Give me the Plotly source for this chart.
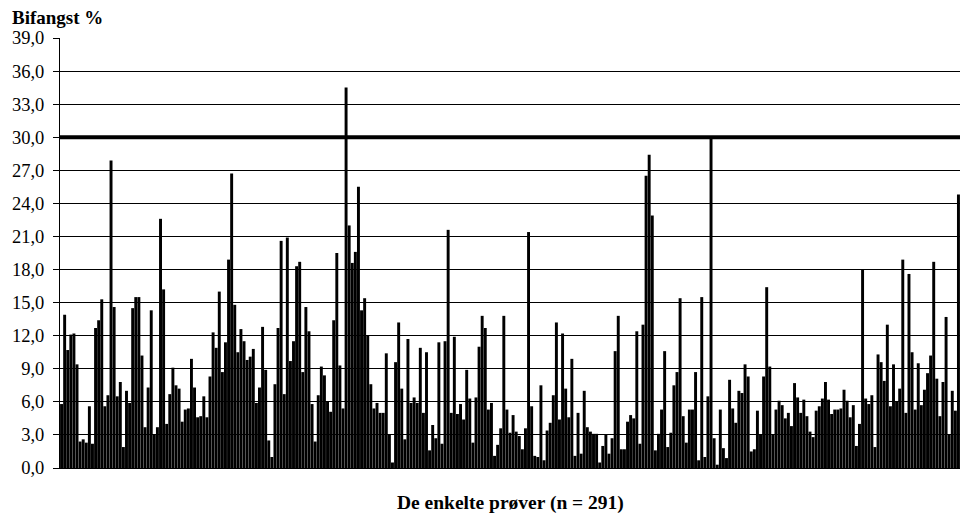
import plotly.graph_objects as go

# Bycatch percentage for each of the 291 samples
sample_no = list(range(1, 292))
bifangst = [
    5.8, 13.9, 10.7, 12.1, 12.2, 9.4, 2.4, 2.6, 2.3, 5.6,
    2.2, 12.7, 13.4, 15.3, 5.6, 6.6, 27.9, 14.6, 6.5, 7.8,
    1.9, 7.0, 5.9, 14.5, 15.5, 15.5, 10.2, 3.7, 7.3, 14.3,
    3.0, 3.7, 22.6, 16.2, 4.0, 6.7, 9.1, 7.5, 7.2, 4.2,
    5.3, 5.4, 9.9, 7.3, 4.6, 4.7, 6.5, 4.6, 8.3, 12.3,
    10.9, 16.0, 8.7, 11.4, 18.9, 26.7, 14.8, 10.5, 12.6, 11.5,
    9.8, 10.1, 10.8, 5.9, 7.3, 12.8, 8.9, 2.5, 1.0, 7.6,
    12.7, 20.6, 6.7, 20.9, 9.7, 11.5, 18.3, 18.7, 8.7, 14.6,
    12.4, 5.8, 2.4, 6.6, 9.2, 8.4, 6.0, 5.1, 13.4, 19.5,
    9.3, 5.4, 34.5, 22.0, 18.6, 19.6, 25.5, 14.3, 15.4, 12.0,
    7.6, 5.4, 5.9, 5.0, 5.0, 10.4, 3.0, 0.5, 9.6, 13.2,
    7.2, 2.6, 11.7, 5.9, 6.4, 5.9, 10.9, 5.0, 10.5, 1.6,
    3.9, 2.7, 11.4, 2.2, 11.5, 21.6, 5.0, 11.9, 4.9, 5.8,
    4.4, 8.9, 6.3, 2.3, 6.4, 11.0, 13.8, 12.7, 5.3, 5.9,
    1.1, 2.1, 3.6, 13.8, 5.3, 3.2, 4.8, 3.3, 2.9, 1.7,
    3.6, 21.4, 5.6, 1.1, 1.0, 7.5, 0.7, 3.4, 4.1, 6.6,
    13.2, 4.4, 12.2, 7.2, 4.6, 9.9, 1.1, 5.0, 1.3, 7.0,
    3.7, 3.3, 3.1, 3.1, 0.5, 2.0, 3.0, 1.3, 2.7, 10.6,
    13.8, 1.7, 1.7, 4.2, 4.8, 4.5, 12.4, 2.2, 13.0, 26.5,
    28.4, 22.9, 1.6, 3.1, 5.3, 10.6, 1.9, 3.2, 7.5, 8.7,
    15.4, 4.7, 2.3, 5.3, 5.3, 8.7, 0.7, 15.5, 1.0, 6.5,
    30.0, 2.7, 0.3, 5.3, 1.8, 0.9, 8.0, 5.4, 4.1, 7.0,
    6.8, 9.4, 8.3, 1.5, 1.7, 5.2, 3.0, 8.3, 16.4, 9.2,
    3.0, 5.3, 6.1, 5.7, 4.5, 5.0, 3.8, 7.7, 6.4, 5.0,
    6.2, 4.7, 3.3, 2.8, 5.2, 5.6, 6.3, 7.8, 6.2, 4.9,
    5.3, 5.3, 5.4, 7.1, 6.1, 4.6, 5.7, 2.0, 4.0, 18.0,
    6.3, 5.8, 6.6, 1.9, 10.3, 9.6, 7.9, 13.0, 5.6, 9.4,
    6.0, 7.2, 18.9, 5.0, 17.6, 10.5, 5.3, 9.5, 5.7, 7.1,
    8.6, 10.2, 18.7, 8.1, 4.7, 7.8, 13.7, 3.0, 7.0, 5.2,
    24.8,
]
grense = 30.0  # threshold line
y_ticks = [0, 3, 6, 9, 12, 15, 18, 21, 24, 27, 30, 33, 36, 39]
y_title = "Bifangst %"
x_title = "De enkelte prøver (n = 291)"

FONT = "Liberation Serif, Times New Roman, serif"

fig = go.Figure()
fig.add_trace(go.Bar(
    x=sample_no, y=bifangst,
    marker=dict(color="black", line=dict(width=0)),
    showlegend=False,
))

fig.add_shape(type="line", xref="paper", yref="y", x0=0, x1=1,
              y0=grense, y1=grense, line=dict(color="black", width=4))

fig.update_layout(
    width=960, height=517,
    margin=dict(l=60, r=0, t=38, b=49),
    paper_bgcolor="white", plot_bgcolor="white",
    separators=", ",
    bargap=0.05,
    font=dict(family=FONT, size=18, color="black"),
    xaxis=dict(
        range=[0.5, 291.5], showticklabels=False, ticks="",
        showgrid=False, zeroline=False,
        showline=True, linecolor="black", linewidth=1,
    ),
    yaxis=dict(
        range=[0, 39], tickvals=y_ticks, tickformat=".1f",
        ticks="outside", ticklen=6, tickcolor="black",
        ticklabelstandoff=5,
        showgrid=True, gridcolor="black", gridwidth=1,
        zeroline=False, showline=True, linecolor="black", linewidth=1,
        tickfont=dict(family=FONT, size=18.5, color="black"),
    ),
    annotations=[
        dict(text="<b>" + y_title + "</b>", xref="paper", yref="paper",
             x=-50 / 900, y=1, xanchor="left", yanchor="bottom", yshift=8,
             showarrow=False, font=dict(family=FONT, size=19, color="black")),
        dict(text="<b>" + x_title + "</b>", xref="paper", yref="paper",
             x=0.5, y=0, xanchor="center", yanchor="top", yshift=-22,
             showarrow=False, font=dict(family=FONT, size=19.5, color="black")),
    ],
)

# remove the default page margin so the 960x517 figure fills the window
fig.write_html(
    "out.html",
    config={"displayModeBar": False},
    post_script="document.body.style.margin='0';document.body.style.overflow='hidden';",
)
